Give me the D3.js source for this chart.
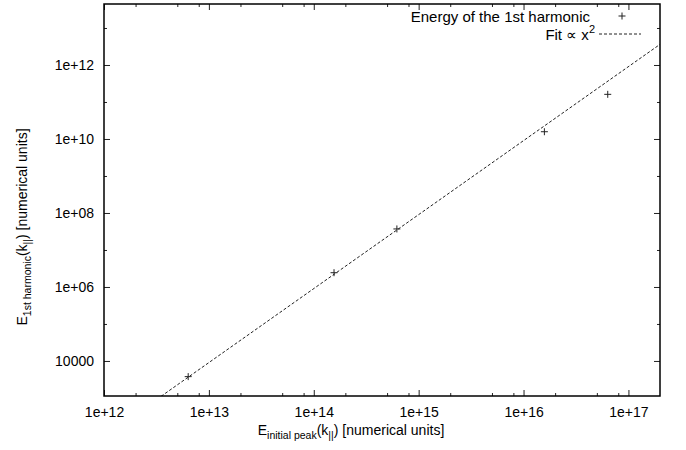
<!DOCTYPE html>
<html>
<head>
<meta charset="utf-8">
<script src="https://cdn.jsdelivr.net/npm/d3@7"></script>
<style>
  body { margin: 0; background: #fff; }
  svg { font-family: "Liberation Sans", Arial, Helvetica, sans-serif; }
</style>
</head>
<body>
<div id="chart"></div>
<script>
// data
const harmonicX = [6.35e12, 1.56e14, 6.2e14, 1.58e16, 6.35e16];
const harmonicY = [3.77e3, 2.43e6, 3.7e7, 1.57e10, 1.61e11];
// two ends of the x^2 fit line
const fitX = [3.5e12, 2e17];
const fitY = [1.107e3, 3.61e12];

const xMajor = [1e12, 1e13, 1e14, 1e15, 1e16, 1e17];
const xMinor = [2e12, 5e12, 8e12, 2e13, 5e13, 8e13, 2e14, 5e14, 8e14,
                2e15, 5e15, 8e15, 2e16, 5e16, 8e16];
const yMajor = [1e4, 1e6, 1e8, 1e10, 1e12];
const yMinor = [1e5, 1e7, 1e9, 1e11, 1e13];

const W = 686, H = 450;
const plotL = 104, plotR = 660, plotT = 4, plotB = 396;

var svg = d3.select("#chart")
    .append("svg")
    .attr("width", W)
    .attr("height", H);

var x = d3.scaleLog()
    .domain([1e12, 2e17])
    .range([plotL, plotR]);

var y = d3.scaleLog()
    .domain([1130, 4.45e13])
    .range([plotB, plotT]);

var xFmt = d => "1e+" + Math.round(Math.log10(d));
var yFmt = d => d === 1e4 ? "10000" : "1e+" + String(Math.round(Math.log10(d))).padStart(2, "0");

function styleAxis(g) {
    g.select(".domain").remove();
    g.selectAll("line").attr("stroke", "#222").attr("stroke-width", 1);
    g.selectAll("text").style("font-size", "14px").attr("fill", "#000");
}

// bottom
svg.append("g")
    .attr("transform", "translate(0," + plotB + ")")
    .call(d3.axisBottom(x).tickValues(xMajor).tickFormat(xFmt).tickSize(-6).tickPadding(11))
    .call(styleAxis);
svg.append("g")
    .attr("transform", "translate(0," + plotB + ")")
    .call(d3.axisBottom(x).tickValues(xMinor).tickFormat("").tickSize(-3))
    .call(styleAxis);
// top mirror
svg.append("g")
    .attr("transform", "translate(0," + plotT + ")")
    .call(d3.axisTop(x).tickValues(xMajor).tickFormat("").tickSize(-6))
    .call(styleAxis);
svg.append("g")
    .attr("transform", "translate(0," + plotT + ")")
    .call(d3.axisTop(x).tickValues(xMinor).tickFormat("").tickSize(-3))
    .call(styleAxis);
// left
svg.append("g")
    .attr("transform", "translate(" + plotL + ",0)")
    .call(d3.axisLeft(y).tickValues(yMajor).tickFormat(yFmt).tickSize(-6).tickPadding(10))
    .call(styleAxis);
svg.append("g")
    .attr("transform", "translate(" + plotL + ",0)")
    .call(d3.axisLeft(y).tickValues(yMinor).tickFormat("").tickSize(-3))
    .call(styleAxis);
// right mirror
svg.append("g")
    .attr("transform", "translate(" + plotR + ",0)")
    .call(d3.axisRight(y).tickValues(yMajor).tickFormat("").tickSize(-6))
    .call(styleAxis);
svg.append("g")
    .attr("transform", "translate(" + plotR + ",0)")
    .call(d3.axisRight(y).tickValues(yMinor).tickFormat("").tickSize(-3))
    .call(styleAxis);

// clip for the fit line
svg.append("clipPath").attr("id", "plot-clip")
    .append("rect")
    .attr("x", plotL).attr("y", plotT)
    .attr("width", plotR - plotL).attr("height", plotB - plotT);

var fitData = fitX.map((d, i) => [d, fitY[i]]);
var line = d3.line()
    .x(d => x(d[0]))
    .y(d => y(d[1]));

svg.append("path")
    .attr("d", line(fitData))
    .attr("clip-path", "url(#plot-clip)")
    .attr("fill", "none")
    .attr("stroke", "#222")
    .attr("stroke-width", 1)
    .attr("stroke-dasharray", "3,2");

// plus markers
var pts = harmonicX.map((d, i) => [d, harmonicY[i]]);
var marks = svg.selectAll("g.pt")
    .data(pts)
    .enter().append("g")
    .attr("class", "pt")
    .attr("transform", d => "translate(" + x(d[0]) + "," + y(d[1]) + ")");
marks.append("line").attr("x1", -3.5).attr("x2", 3.5).attr("y1", 0).attr("y2", 0);
marks.append("line").attr("x1", 0).attr("x2", 0).attr("y1", -3.5).attr("y2", 3.5);
marks.selectAll("line").attr("stroke", "#222").attr("stroke-width", 1);

// frame
svg.append("rect")
    .attr("x", plotL).attr("y", plotT)
    .attr("width", plotR - plotL).attr("height", plotB - plotT)
    .attr("fill", "none")
    .attr("stroke", "#000")
    .attr("stroke-width", 1.5);

// legend
var legend = svg.append("g").style("font-size", "15px");
legend.append("text")
    .attr("x", 590).attr("y", 22)
    .attr("text-anchor", "end")
    .text("Energy of the 1st harmonic");
var lp = legend.append("g").attr("transform", "translate(622,16)");
lp.append("line").attr("x1", -3.5).attr("x2", 3.5).attr("stroke", "#222");
lp.append("line").attr("y1", -3.5).attr("y2", 3.5).attr("stroke", "#222");

var t2 = legend.append("text")
    .attr("x", 595).attr("y", 40)
    .attr("text-anchor", "end");
t2.append("tspan").text("Fit \u221d x");
t2.append("tspan").attr("dy", -7).style("font-size", "11px").text("2");
legend.append("line")
    .attr("x1", 599).attr("x2", 641)
    .attr("y1", 34).attr("y2", 34)
    .attr("stroke", "#222")
    .attr("stroke-dasharray", "3,2");

// axis titles
var xt = svg.append("text")
    .attr("x", 351).attr("y", 435)
    .attr("text-anchor", "middle")
    .style("font-size", "14px");
xt.append("tspan").text("E");
xt.append("tspan").attr("dy", 4).style("font-size", "10.5px").text("initial peak");
xt.append("tspan").attr("dy", -4).text("(k");
xt.append("tspan").attr("dy", 4).style("font-size", "10.5px").text("||");
xt.append("tspan").attr("dy", -4).text(") [numerical units]");

var yt = svg.append("text")
    .attr("transform", "translate(27,227)rotate(-90)")
    .attr("text-anchor", "middle")
    .style("font-size", "14px");
yt.append("tspan").text("E");
yt.append("tspan").attr("dy", 4).style("font-size", "10.5px").text("1st harmonic");
yt.append("tspan").attr("dy", -4).text("(k");
yt.append("tspan").attr("dy", 4).style("font-size", "10.5px").text("||");
yt.append("tspan").attr("dy", -4).text(") [numerical units]");
</script>
</body>
</html>
